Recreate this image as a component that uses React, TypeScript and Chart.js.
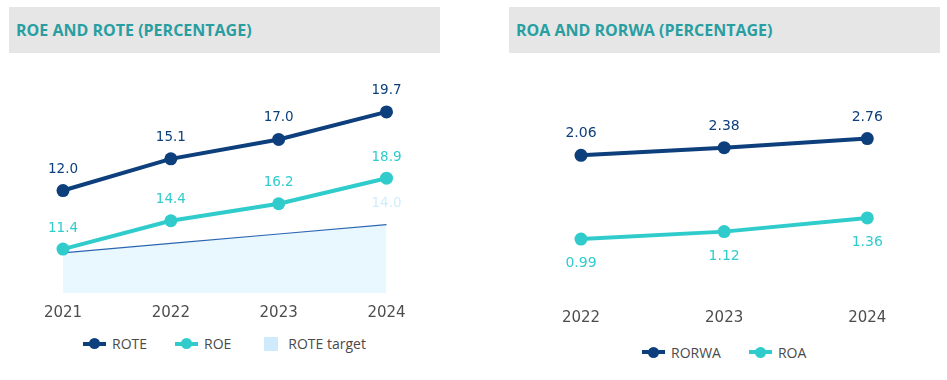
import React, { useEffect, useRef } from "react";
import { Chart, registerables } from "chart.js";

Chart.register(...registerables);

// ---------- data ----------
const leftYears = ["2021", "2022", "2023", "2024"];
const roteValues = [12.0, 15.1, 17.0, 19.7];
const roeValues = [11.4, 14.4, 16.2, 18.9];
const roteTargetValues = [11.0, 12.0, 13.0, 14.0];

const rightYears = ["2022", "2023", "2024"];
const rorwaValues = [2.06, 2.38, 2.76];
const roaValues = [0.99, 1.12, 1.36];

// ---------- styles ----------
const NAVY = "#0c3f7c";
const TEAL = "#30cccc";
const TARGET_FILL = "#e9f7fe";
const TARGET_LINE = "#2b66b2";
const TARGET_LABEL = "#cdeefc";
const TARGET_SWATCH = "#cfeafc";
const TITLE_COLOR = "#289ea1";
const AXIS_COLOR = "#4d4d4d";
const LEGEND_COLOR = "#4a4a4a";
const NUM_FONT = "'DejaVu Sans', sans-serif";
const TEXT_FONT = "'Open Sans', sans-serif";

const valueLabels = {
  id: "valueLabels",
  afterDatasetsDraw(chart: any) {
    const ctx = chart.ctx;
    chart.data.datasets.forEach((ds: any, i: number) => {
      const cfg = ds.valueLabel;
      if (!cfg) return;
      const meta = chart.getDatasetMeta(i);
      meta.data.forEach((el: any, j: number) => {
        if (cfg.only && !cfg.only.includes(j)) return;
        const v = ds.data[j];
        ctx.save();
        ctx.font = cfg.font;
        ctx.fillStyle = cfg.color;
        ctx.textAlign = "center";
        ctx.textBaseline = "middle";
        ctx.fillText(v.toFixed(cfg.decimals), el.x, el.y + cfg.offset);
        ctx.restore();
      });
    });
  },
};

function xAxis(padding: number) {
  return {
    type: "category",
    offset: false,
    grid: { display: false, drawTicks: false },
    border: { display: false },
    ticks: {
      font: { family: NUM_FONT, size: 15 },
      color: AXIS_COLOR,
      padding,
      maxRotation: 0,
      autoSkip: false,
    },
  };
}

function useChart(ref: React.RefObject<HTMLCanvasElement>, makeConfig: () => any) {
  useEffect(() => {
    if (!ref.current) return;
    const chart = new Chart(ref.current, makeConfig());
    return () => chart.destroy();
  }, []);
}

function LeftChart() {
  const ref = useRef<HTMLCanvasElement>(null);
  useChart(ref, () => ({
    type: "line",
    data: {
      labels: leftYears,
      datasets: [
        {
          label: "ROTE",
          data: roteValues,
          yAxisID: "yRote",
          borderColor: NAVY,
          backgroundColor: NAVY,
          borderWidth: 4,
          pointRadius: 6.5,
          pointBackgroundColor: NAVY,
          pointBorderWidth: 0,
          tension: 0,
          fill: false,
          clip: false,
          valueLabel: { font: `13.5px ${NUM_FONT}`, color: NAVY, offset: -21.5, decimals: 1 },
        },
        {
          label: "ROE",
          data: roeValues,
          yAxisID: "yRoe",
          borderColor: TEAL,
          backgroundColor: TEAL,
          borderWidth: 4,
          pointRadius: 6.5,
          pointBackgroundColor: TEAL,
          pointBorderWidth: 0,
          tension: 0,
          fill: false,
          clip: false,
          valueLabel: { font: `13.5px ${NUM_FONT}`, color: TEAL, offset: -21, decimals: 1 },
        },
        {
          label: "ROTE target",
          data: roteTargetValues,
          yAxisID: "yRoe",
          borderColor: TARGET_LINE,
          backgroundColor: TARGET_FILL,
          borderWidth: 1.2,
          pointRadius: 0,
          tension: 0,
          fill: "start",
          clip: false,
          valueLabel: { font: `13.5px ${NUM_FONT}`, color: TARGET_LABEL, offset: -21.5, decimals: 1, only: [3] },
        },
      ],
    },
    options: {
      animation: false,
      responsive: false,
      devicePixelRatio: 1,
      events: [],
      layout: { padding: { left: 63, right: 470 - 386.5, top: 10, bottom: 0 } },
      plugins: { legend: { display: false }, tooltip: { enabled: false } },
      scales: {
        x: xAxis(11),
        yRote: { type: "linear", display: false, min: 1.97, max: 23.8 },
        yRoe: { type: "linear", display: false, min: 6.756, max: 30.35 },
      },
    },
    plugins: [valueLabels],
  }));
  return (
    <canvas
      ref={ref}
      width={470}
      height={273}
      style={{ position: "absolute", left: 0, top: 60, width: 470, height: 273 }}
    />
  );
}

function RightChart() {
  const ref = useRef<HTMLCanvasElement>(null);
  useChart(ref, () => ({
    type: "line",
    data: {
      labels: rightYears,
      datasets: [
        {
          label: "RORWA",
          data: rorwaValues,
          yAxisID: "yRorwa",
          borderColor: NAVY,
          backgroundColor: NAVY,
          borderWidth: 4,
          pointRadius: 6.5,
          pointBackgroundColor: NAVY,
          pointBorderWidth: 0,
          tension: 0,
          fill: false,
          clip: false,
          valueLabel: { font: `14px ${NUM_FONT}`, color: NAVY, offset: -21.7, decimals: 2 },
        },
        {
          label: "ROA",
          data: roaValues,
          yAxisID: "yRoa",
          borderColor: TEAL,
          backgroundColor: TEAL,
          borderWidth: 4,
          pointRadius: 6.5,
          pointBackgroundColor: TEAL,
          pointBorderWidth: 0,
          tension: 0,
          fill: false,
          clip: false,
          valueLabel: { font: `14px ${NUM_FONT}`, color: TEAL, offset: 24.4, decimals: 2 },
        },
      ],
    },
    options: {
      animation: false,
      responsive: false,
      devicePixelRatio: 1,
      events: [],
      layout: { padding: { left: 111, right: 477 - 397.3, top: 10, bottom: 0 } },
      plugins: { legend: { display: false }, tooltip: { enabled: false } },
      scales: {
        x: xAxis(10.7),
        yRorwa: { type: "linear", display: false, min: -3.917, max: 5.622 },
        yRoa: { type: "linear", display: false, min: -0.054, max: 3.953 },
      },
    },
    plugins: [valueLabels],
  }));
  return (
    <canvas
      ref={ref}
      width={477}
      height={278}
      style={{ position: "absolute", left: 470, top: 60, width: 477, height: 278 }}
    />
  );
}

function Title({ left, text }: { left: number; text: string }) {
  return (
    <div
      style={{
        position: "absolute",
        left,
        top: 7,
        width: 431,
        height: 46,
        background: "#e6e6e6",
        color: TITLE_COLOR,
        fontFamily: TEXT_FONT,
        fontWeight: 700,
        fontSize: 16,
        lineHeight: "47px",
        paddingLeft: 7,
        boxSizing: "border-box",
        whiteSpace: "nowrap",
      }}
    >
      {text}
    </div>
  );
}

function LineMarker({ color }: { color: string }) {
  return (
    <span style={{ position: "relative", display: "inline-block", width: 23, height: 12, marginRight: 6 }}>
      <span style={{ position: "absolute", left: 0, top: 4, width: 23, height: 4, background: color }} />
      <span
        style={{ position: "absolute", left: 6, top: 0.5, width: 11, height: 11, borderRadius: "50%", background: color }}
      />
    </span>
  );
}

function SquareMarker({ color }: { color: string }) {
  return (
    <span style={{ display: "inline-block", width: 23, height: 14, marginRight: 6, position: "relative" }}>
      <span style={{ position: "absolute", left: 4.5, top: 0, width: 14, height: 14, background: color }} />
    </span>
  );
}

function Legend({
  left,
  centerY,
  items,
}: {
  left: number;
  centerY: number;
  items: { label: string; kind: "line" | "square"; color: string }[];
}) {
  return (
    <div
      style={{
        position: "absolute",
        left,
        top: centerY - 10,
        height: 20,
        display: "flex",
        alignItems: "center",
        fontFamily: TEXT_FONT,
        fontSize: 14,
        color: LEGEND_COLOR,
        whiteSpace: "nowrap",
      }}
    >
      {items.map((it, i) => (
        <span key={it.label} style={{ display: "flex", alignItems: "center", marginRight: i < items.length - 1 ? 28 : 0 }}>
          {it.kind === "line" ? <LineMarker color={it.color} /> : <SquareMarker color={it.color} />}
          <span>{it.label}</span>
        </span>
      ))}
    </div>
  );
}

export default function App() {
  return (
    <div
      style={{
        position: "fixed",
        left: 0,
        top: 0,
        width: 947,
        height: 380,
        background: "#ffffff",
        overflow: "hidden",
      }}
    >
      <Title left={9} text="ROE AND ROTE (PERCENTAGE)" />
      <Title left={509} text="ROA AND RORWA (PERCENTAGE)" />
      <LeftChart />
      <RightChart />
      <Legend
        left={83}
        centerY={343.5}
        items={[
          { label: "ROTE", kind: "line", color: NAVY },
          { label: "ROE", kind: "line", color: TEAL },
          { label: "ROTE target", kind: "square", color: TARGET_SWATCH },
        ]}
      />
      <Legend
        left={642}
        centerY={352}
        items={[
          { label: "RORWA", kind: "line", color: NAVY },
          { label: "ROA", kind: "line", color: TEAL },
        ]}
      />
    </div>
  );
}
